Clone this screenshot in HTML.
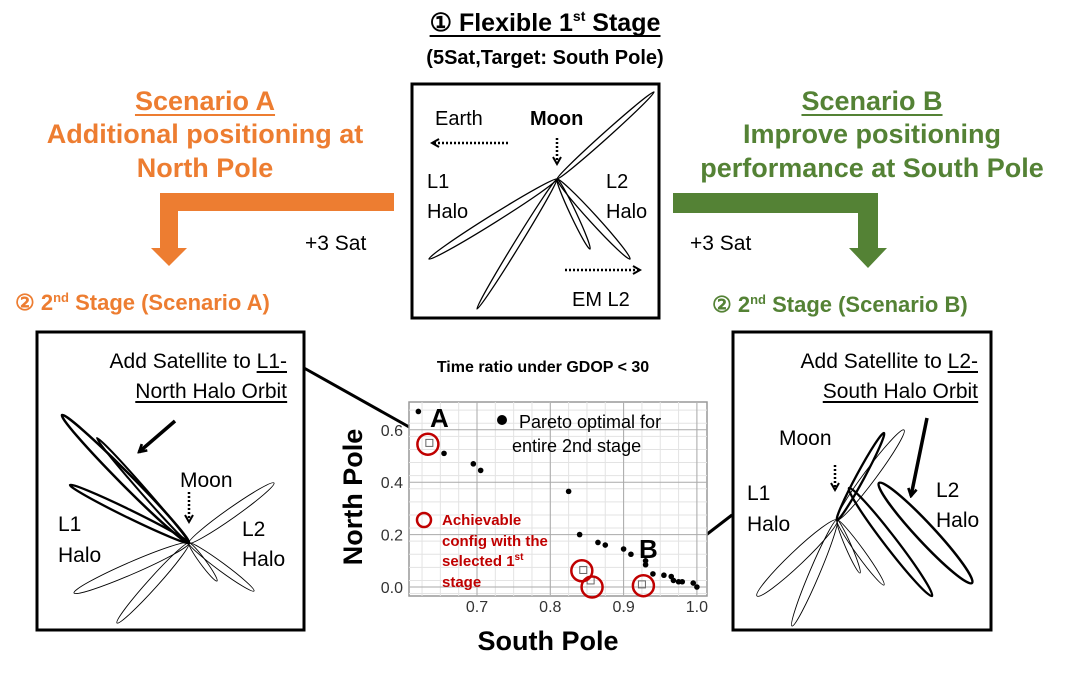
<!DOCTYPE html>
<html><head><meta charset="utf-8">
<style>
html,body{margin:0;padding:0;background:#fff;}
svg{display:block;font-family:"Liberation Sans",sans-serif;}
</style></head>
<body>
<svg id="root" width="1069" height="674" viewBox="0 0 1069 674" xmlns="http://www.w3.org/2000/svg">
<defs>
<marker id="ah" viewBox="0 0 10 10" refX="8" refY="5" markerWidth="4" markerHeight="4" orient="auto"><path d="M1,1 L8,5 L1,9" fill="none" stroke="#000" stroke-width="2"/></marker>
<marker id="ahs" viewBox="0 0 10 10" refX="8" refY="5" markerWidth="3" markerHeight="3" orient="auto"><path d="M1,1 L8,5 L1,9" fill="none" stroke="#000" stroke-width="2.5"/></marker>
</defs>

<!-- Title -->
<g>
<text class="ul" data-ulc="#000" x="545" y="31" text-anchor="middle" font-size="25" font-weight="bold">① Flexible 1<tspan font-size="14" dy="-10">st</tspan><tspan dy="10"> Stage</tspan></text>
<text x="545" y="64" text-anchor="middle" font-size="20" font-weight="bold">(5Sat,Target: South Pole)</text>
</g>

<!-- Scenario A -->
<g fill="#ED7D31" font-weight="bold" font-size="27" text-anchor="middle">
<text class="ul" data-ulc="#ED7D31" x="205" y="110">Scenario A</text>
<text x="205" y="143">Additional positioning at</text>
<text x="205" y="177">North Pole</text>
</g>
<path d="M394,193 L160,193 L160,248 L151,248 L169,266 L187,248 L178,248 L178,211 L394,211 Z" fill="#ED7D31"/>
<text x="305" y="250" font-size="21">+3 Sat</text>

<!-- Scenario B -->
<g fill="#548235" font-weight="bold" font-size="27" text-anchor="middle">
<text class="ul" data-ulc="#548235" x="872" y="110">Scenario B</text>
<text x="872" y="143">Improve positioning</text>
<text x="872" y="177">performance at South Pole</text>
</g>
<path d="M673,193 L878,193 L878,248 L887,248 L868,268 L849,248 L858,248 L858,213 L673,213 Z" fill="#548235"/>
<text x="690" y="250" font-size="21">+3 Sat</text>

<!-- Stage 2 labels -->
<text x="15" y="310" font-size="22" font-weight="bold" fill="#ED7D31">② 2<tspan font-size="13" dy="-8">nd</tspan><tspan dy="8"> Stage (Scenario A)</tspan></text>
<text x="712" y="312" font-size="22" font-weight="bold" fill="#548235">② 2<tspan font-size="13" dy="-8">nd</tspan><tspan dy="8"> Stage (Scenario B)</tspan></text>

<!-- Center box -->
<g>
<rect x="412" y="84" width="247" height="234" fill="#fff" stroke="#000" stroke-width="3"/>
<g id="c-loops" fill="none" stroke="#000" stroke-width="1.3"></g>
<text x="435" y="125" font-size="20">Earth</text>
<line x1="508" y1="143" x2="432" y2="143" stroke="#000" stroke-width="2.5" stroke-dasharray="2,2" marker-end="url(#ah)"/>
<text x="530" y="125" font-size="20" font-weight="bold">Moon</text>
<line x1="557" y1="138" x2="557" y2="164" stroke="#000" stroke-width="2.5" stroke-dasharray="2,2" marker-end="url(#ah)"/>
<text x="427" y="188" font-size="20">L1</text><text x="427" y="218" font-size="20">Halo</text>
<text x="606" y="188" font-size="20">L2</text><text x="606" y="218" font-size="20">Halo</text>
<line x1="565" y1="270" x2="640" y2="270" stroke="#000" stroke-width="2.5" stroke-dasharray="2,2" marker-end="url(#ah)"/>
<text x="572" y="306" font-size="20">EM L2</text>
</g>

<!-- Left box -->
<g>
<rect x="37" y="332" width="267" height="298" fill="#fff" stroke="#000" stroke-width="3"/>
<g id="l-loops" fill="none" stroke="#000"></g>
<text x="287" y="368" font-size="21" text-anchor="end">Add Satellite to <tspan class="ul" data-ulc="#000">L1-</tspan></text>
<text class="ul" data-ulc="#000" x="287" y="398" font-size="21" text-anchor="end">North Halo Orbit</text>
<line x1="175" y1="421" x2="139" y2="452" stroke="#000" stroke-width="3.5" marker-end="url(#ahs)"/>
<text x="180" y="487" font-size="21">Moon</text>
<line x1="189" y1="492" x2="189" y2="522" stroke="#000" stroke-width="2.5" stroke-dasharray="2,2" marker-end="url(#ah)"/>
<text x="58" y="531" font-size="21">L1</text><text x="58" y="562" font-size="21">Halo</text>
<text x="242" y="536" font-size="21">L2</text><text x="242" y="566" font-size="21">Halo</text>
</g>

<!-- Right box -->
<g>
<rect x="733" y="332" width="258" height="298" fill="#fff" stroke="#000" stroke-width="3"/>
<g id="r-loops" fill="none" stroke="#000"></g>
<text x="978" y="368" font-size="21" text-anchor="end">Add Satellite to <tspan class="ul" data-ulc="#000">L2-</tspan></text>
<text class="ul" data-ulc="#000" x="978" y="398" font-size="21" text-anchor="end">South Halo Orbit</text>
<line x1="927" y1="418" x2="911" y2="496" stroke="#000" stroke-width="3.5" marker-end="url(#ahs)"/>
<text x="779" y="445" font-size="21">Moon</text>
<line x1="835" y1="465" x2="835" y2="490" stroke="#000" stroke-width="2.5" stroke-dasharray="2,2" marker-end="url(#ah)"/>
<text x="747" y="500" font-size="21">L1</text><text x="747" y="531" font-size="21">Halo</text>
<text x="936" y="497" font-size="21">L2</text><text x="936" y="527" font-size="21">Halo</text>
</g>

<!-- connector lines -->
<line x1="304" y1="368" x2="427" y2="437" stroke="#000" stroke-width="3"/>
<line x1="650" y1="578" x2="732" y2="515" stroke="#000" stroke-width="3"/>

<!-- Chart -->
<g id="chart">
<text x="543" y="372" text-anchor="middle" font-size="16" font-weight="bold">Time ratio under GDOP &lt; 30</text>
<g id="grid"></g>
<g id="ticks" font-size="16" fill="#333"></g>
<g id="marks"></g>
<text x="548" y="650" text-anchor="middle" font-size="27" font-weight="bold">South Pole</text>
<text transform="translate(362,497) rotate(-90)" text-anchor="middle" font-size="27" font-weight="bold">North Pole</text>
<g>
<circle cx="502" cy="420" r="5" fill="#000"/>
<text x="519" y="428" font-size="18">Pareto optimal for</text>
<text x="512" y="452" font-size="18">entire 2nd stage</text>
</g>
<g fill="#C00000" font-size="15" font-weight="bold">
<circle cx="424" cy="520" r="7" fill="none" stroke="#C00000" stroke-width="2.5"/>
<text x="442" y="525">Achievable</text>
<text x="442" y="546">config with the</text>
<text x="442" y="566">selected 1<tspan font-size="10" dy="-6">st</tspan></text>
<text x="442" y="587">stage</text>
</g>
<text x="430" y="427" font-size="26" font-weight="bold">A</text>
<text x="639" y="558" font-size="26" font-weight="bold">B</text>
</g>
</svg>
<script>
const NS="http://www.w3.org/2000/svg";
// chart data
const xTicks=[0.7,0.8,0.9,1.0];
const yTicks=[0.0,0.2,0.4,0.6];
const paretoX=[0.62,0.655,0.695,0.705,0.825,0.84,0.865,0.875,0.9,0.91,0.93,0.93,0.94,0.955,0.965,0.968,0.975,0.98,0.995,1.0];
const paretoY=[0.67,0.51,0.47,0.445,0.365,0.2,0.17,0.16,0.145,0.125,0.1,0.085,0.05,0.045,0.04,0.025,0.02,0.02,0.015,0.0];
const achX=[0.635,0.845,0.855,0.925];
const achY=[0.55,0.065,0.025,0.01];
const circX=[0.633,0.843,0.857,0.927];
const circY=[0.545,0.062,0.0,0.005];

const X0=409,X1=707,Y0=402,Y1=596;
const sx=v=>477+(v-0.7)*733;
const sy=v=>587-v*262;

function mk(tag,attrs,parent){const e=document.createElementNS(NS,tag);for(const k in attrs)e.setAttribute(k,attrs[k]);parent.appendChild(e);return e;}

// underlines
const root=document.getElementById('root');
document.querySelectorAll('.ul').forEach(el=>{const b=el.getBBox();
 const u=mk('line',{x1:b.x,x2:b.x+b.width,y1:b.y+b.height-1,y2:b.y+b.height-1,stroke:el.getAttribute('data-ulc'),'stroke-width':2},root);
 
 });

const grid=document.getElementById('grid');
const bg=mk('rect',{x:X0,y:Y0,width:X1-X0,height:Y1-Y0,fill:'#fff',stroke:'#999','stroke-width':1.5},grid);


for(let v=0.625;v<=1.0251;v+=0.025){const x=sx(v);if(x<X0||x>X1)continue;
 const l=mk('line',{x1:x,y1:Y0,x2:x,y2:Y1,stroke:'#e3e3e3','stroke-width':1},grid);
 
 }
for(let v=-0.025;v<=0.725;v+=0.05){const y=sy(v);if(y<Y0||y>Y1)continue;
 const l=mk('line',{x1:X0,y1:y,x2:X1,y2:y,stroke:'#e3e3e3','stroke-width':1},grid);
 
 }
const tk=document.getElementById('ticks');
xTicks.forEach(v=>{const x=sx(v);
 const l=mk('line',{x1:x,y1:Y0,x2:x,y2:Y1,stroke:'#aaa','stroke-width':1},grid);
 
 
 const t=mk('text',{x:x,y:612,'text-anchor':'middle'},tk);t.textContent=v.toFixed(1);
 
 });
yTicks.forEach(v=>{const y=sy(v);
 const l=mk('line',{x1:X0,y1:y,x2:X1,y2:y,stroke:'#aaa','stroke-width':1},grid);
 
 
 const t=mk('text',{x:403,y:y+6,'text-anchor':'end'},tk);t.textContent=v.toFixed(1);
 
 });
const marks=document.getElementById('marks');
paretoX.forEach((v,i)=>{const c=mk('circle',{cx:sx(v),cy:sy(paretoY[i]),r:2.8,fill:'#000'},marks);
 
 });
achX.forEach((v,i)=>{const r=mk('rect',{x:sx(v)-3.5,y:sy(achY[i])-3.5,width:7,height:7,fill:'none',stroke:'#666','stroke-width':1},marks);
 
 });
circX.forEach((v,i)=>{const c=mk('circle',{cx:sx(v),cy:sy(circY[i]),r:10.5,fill:'none',stroke:'#C00000','stroke-width':2.5},marks);
 
 });

function loop(g,c,t,w,sw){const mx=(c[0]+t[0])/2,my=(c[1]+t[1])/2;const dx=t[0]-c[0],dy=t[1]-c[1];
 const L=Math.hypot(dx,dy)/2,a=Math.atan2(dy,dx)*180/Math.PI;
 const e=mk('ellipse',{cx:mx,cy:my,rx:L,ry:w,transform:`rotate(${a} ${mx} ${my})`,'stroke-width':sw},g);
 
 }
const cg=document.getElementById('c-loops'),C=[557,179];
[[429,259,4],[477,309,3],[654,92,3],[590,249,3],[630,259,4]].forEach(p=>loop(cg,C,[p[0],p[1]],p[2],1.3));
const lg=document.getElementById('l-loops'),L=[189,543];
loop(lg,L,[62,415],6,2.5);loop(lg,L,[97,438],3,2);loop(lg,L,[70,485],4,2.3);
[[274,483,5],[74,593,6],[117,623,5],[217,581,3],[254,591,4]].forEach(p=>loop(lg,L,[p[0],p[1]],p[2],0.9));
const rg=document.getElementById('r-loops'),R=[837,520];
[[757,596,7],[792,626,5],[904,430,6],[860,573,3],[884,585,4]].forEach(p=>loop(rg,R,[p[0],p[1]],p[2],0.9));
loop(rg,R,[884,433],4,2.3);loop(rg,[849,488],[932,596],6,2.3);loop(rg,[879,483],[972,583],9,2.5);
</script>
</body></html>
